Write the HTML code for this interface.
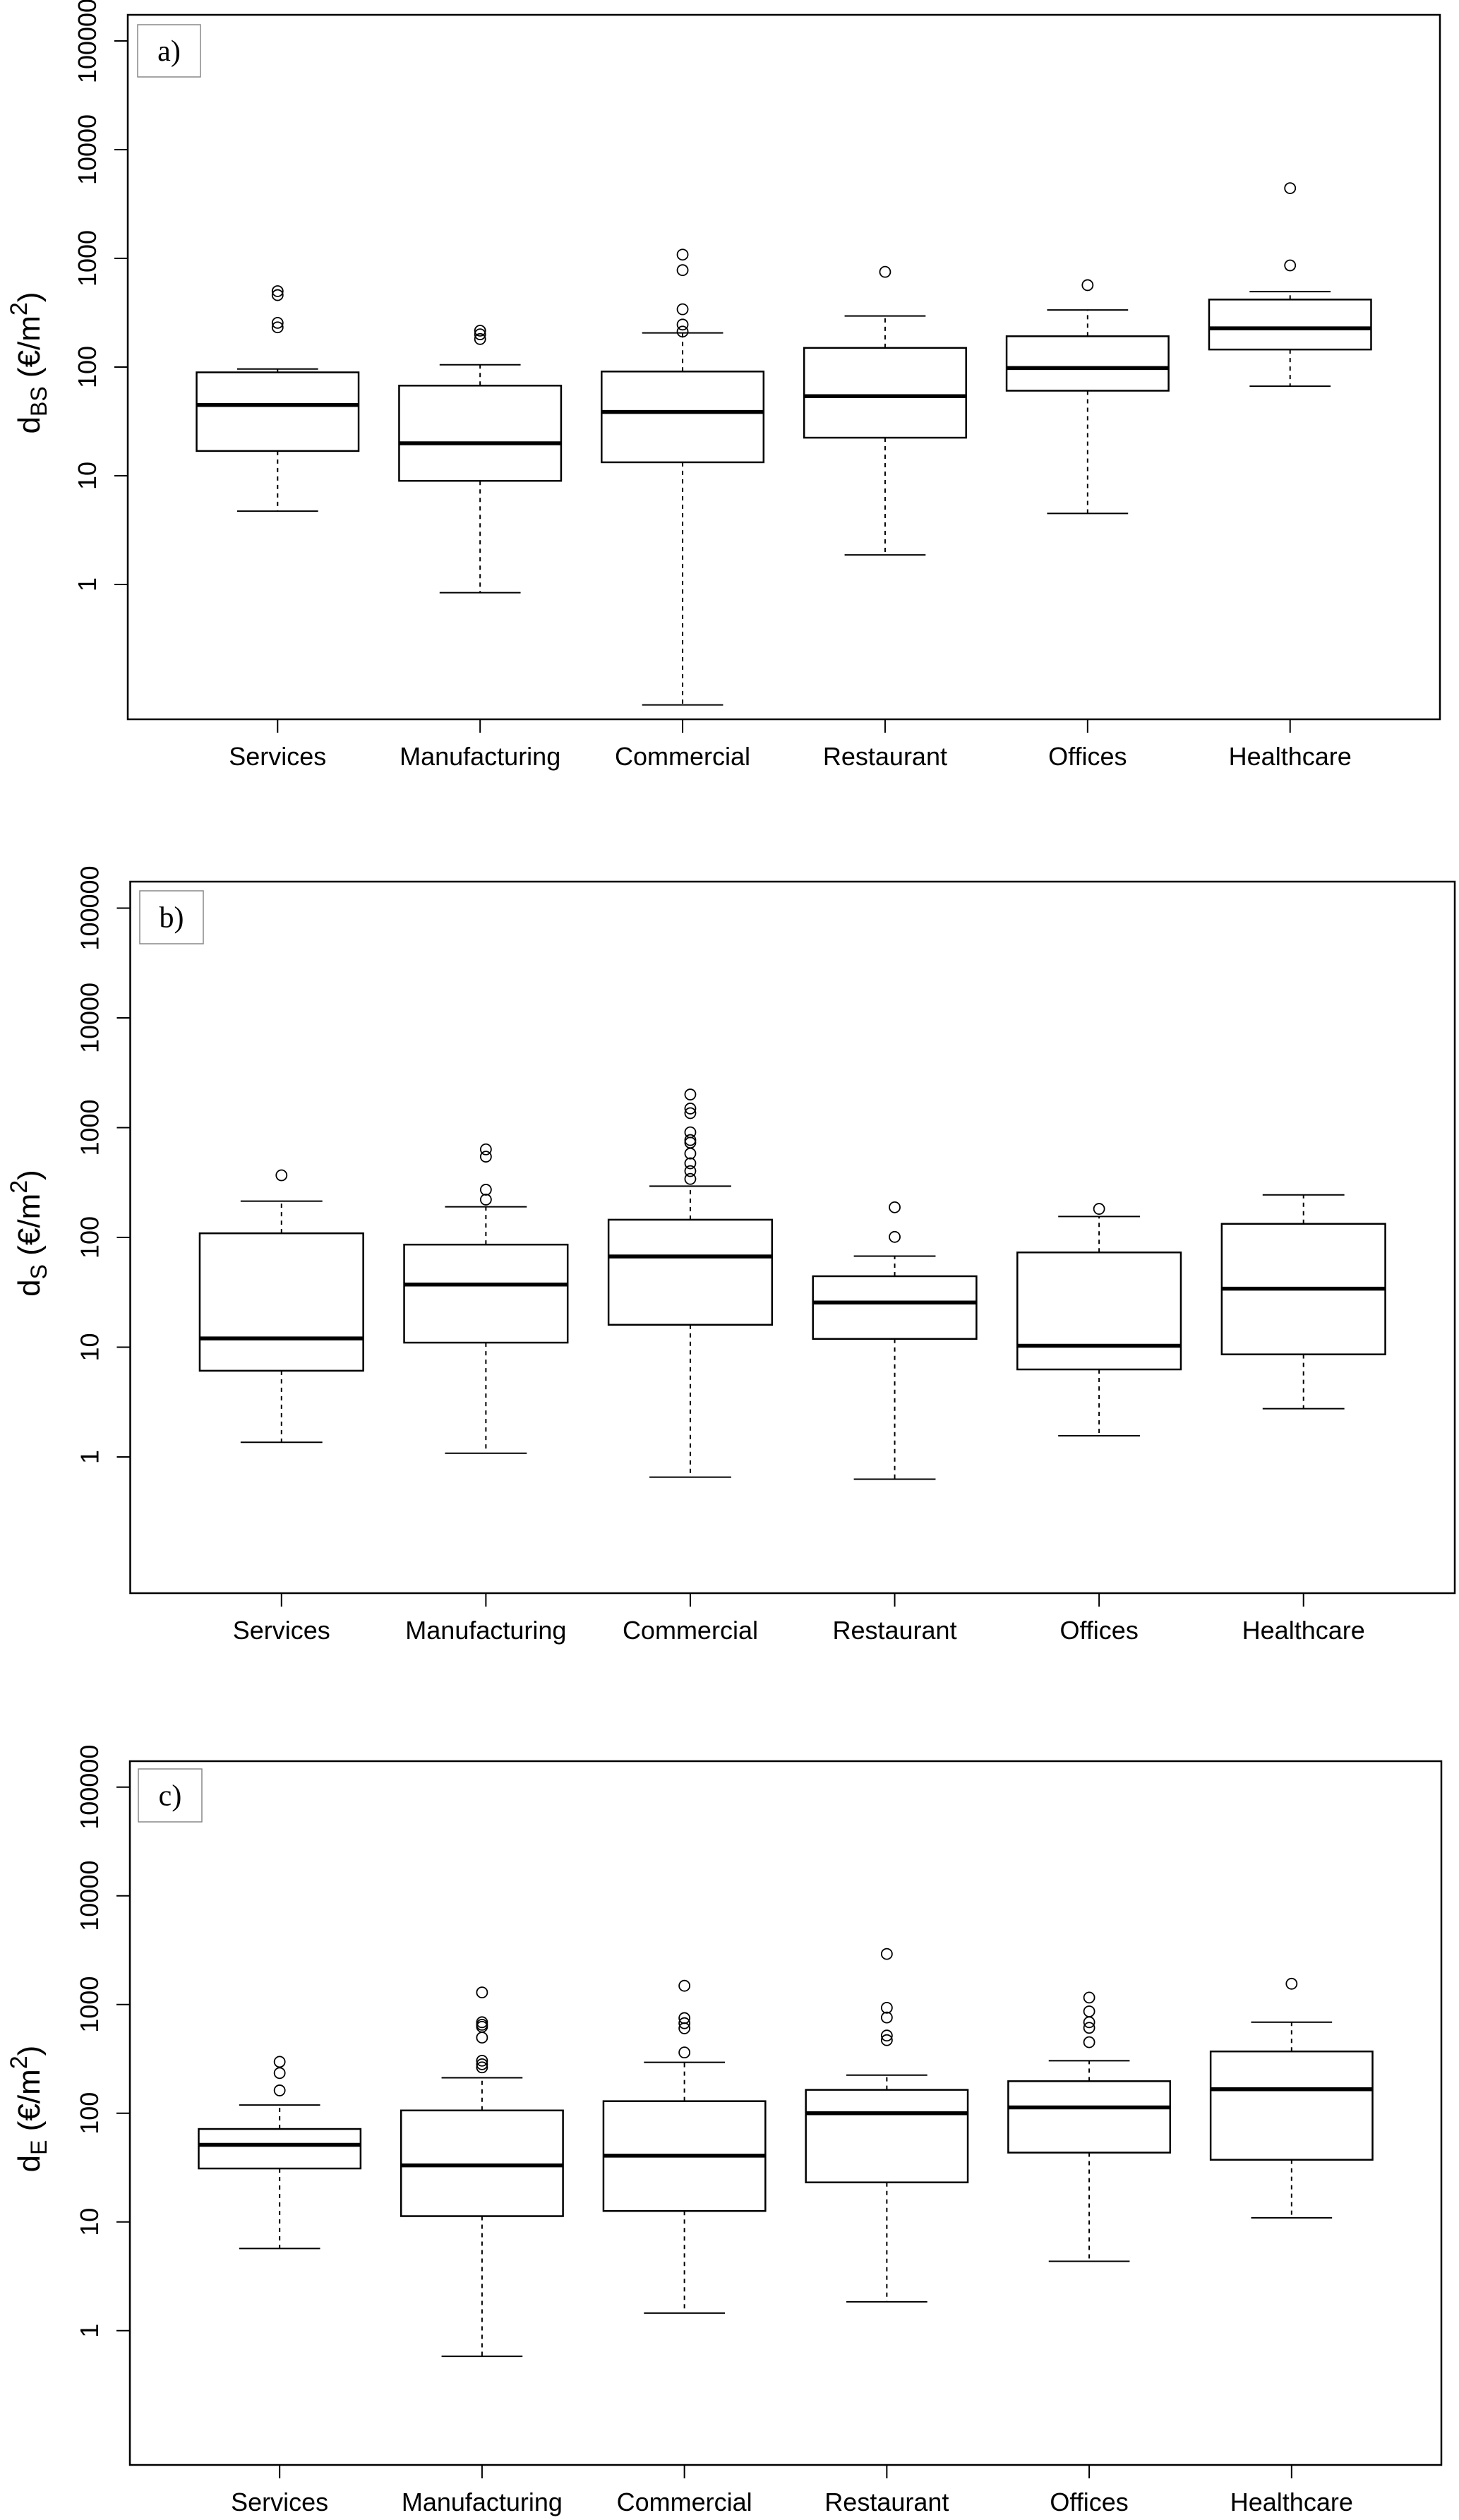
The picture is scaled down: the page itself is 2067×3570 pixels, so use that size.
<!DOCTYPE html>
<html><head><meta charset="utf-8"><style>
html,body{margin:0;padding:0;background:#fff;}
svg{display:block;}
text{font-family:"Liberation Sans",Arial,sans-serif;fill:#000;}
</style></head><body>
<svg id="fig" width="2067" height="3570" viewBox="0 0 2067 3570" xmlns="http://www.w3.org/2000/svg"></svg>
<script>
const categories = ["Services","Manufacturing","Commercial","Restaurant","Offices","Healthcare"];
const yTicks = [1,10,100,1000,10000,100000];
const yTickLabels = ["1","10","100","1000","10000","100000"];

// Panel a) d_BS
const aLower = [4.73,0.84,0.078,1.87,4.5,66.6];
const aQ1 = [16.9,8.98,13.3,22.4,60.6,145];
const aMed = [44.8,19.9,38.6,54,98,227];
const aQ3 = [89.4,67.5,91,150,192,418];
const aUpper = [96,105,206,295,335,494];
const aOutliers = [[499,459,255,232],[216,200,181],[1082,779,340,246,212],[751],[567],[4420,861]];

// Panel b) d_S
const bLower = [1.36,1.08,0.655,0.627,1.56,2.75];
const bQ1 = [6.1,11.0,16.0,11.9,6.27,8.6];
const bMed = [12.0,37.2,67,25.5,10.3,34.1];
const bQ3 = [109,86,145,44.3,73,133];
const bUpper = [214,190,293,67.6,155,244];
const bOutliers = [[368],[634,544,272,221],[2004,1493,1355,907,771,730,581,473,402,341],[188,101],[182],[]];

// Panel c) d_E
const cLower = [5.69,0.58,1.45,1.84,4.34,10.9];
const cQ1 = [31,11.3,12.6,23.1,43.4,37.3];
const cMed = [51.2,33.1,40.7,100,113,166];
const cQ3 = [71.6,106,129,164,197,370];
const cUpper = [119,212,294,224,304,687];
const cOutliers = [[297,234,162],[1291,687,651,624,496,304,282,264],[1486,750,673,604,362],[2917,933,759,518,470],[1158,864,687,610,450],[1552]];

const NS = "http://www.w3.org/2000/svg";
const svg = document.getElementById("fig");
function mk(tag, attrs, parent){
  const e = document.createElementNS(NS, tag);
  for (const k in attrs) e.setAttribute(k, attrs[k]);
  (parent||svg).appendChild(e);
  return e;
}

const panels = [
  {id:"a", label:"a)", sub:"BS", left:181, right:2040, top:21, bottom:1019, yOne:828, dec:154,
   box:[195,35,89,74], lower:aLower, q1:aQ1, med:aMed, q3:aQ3, upper:aUpper, out:aOutliers},
  {id:"b", label:"b)", sub:"S", left:184.5, right:2061, top:1249, bottom:2257, yOne:2064, dec:155.5,
   box:[198,1262,90,75], lower:bLower, q1:bQ1, med:bMed, q3:bQ3, upper:bUpper, out:bOutliers},
  {id:"c", label:"c)", sub:"E", left:184, right:2042, top:2495, bottom:3492, yOne:3301.7, dec:154,
   box:[196,2506,90,75], lower:cLower, q1:cQ1, med:cMed, q3:cQ3, upper:cUpper, out:cOutliers}
];

panels.forEach(p => {
  const g = mk("g", {});
  
  
  const W = p.right - p.left;
  const xs = i => p.left + ((i + 1) - 0.26) / 6.48 * W;
  const sp = W / 6.48;
  const ys = v => p.yOne - Math.log10(v) * p.dec;

  const fr = mk("rect", {x:p.left, y:p.top, width:W, height:p.bottom-p.top, fill:"none", stroke:"#000", "stroke-width":2.5}, g);
  
  

  const lb = mk("rect", {x:p.box[0], y:p.box[1], width:p.box[2], height:p.box[3], fill:"#fff", stroke:"#888", "stroke-width":1.5}, g);
  
  
  const lt = mk("text", {x:p.box[0]+p.box[2]/2, y:p.box[1]+p.box[3]/2+14, "text-anchor":"middle", "font-size":42, style:"font-family:'Liberation Serif',serif"}, g);
  lt.textContent = p.label;
  
  

  yTicks.forEach((t, k) => {
    const y = ys(t);
    const tl = mk("line", {x1:p.left-19, x2:p.left, y1:y, y2:y, stroke:"#000", "stroke-width":2}, g);
    
    
    const tx = mk("text", {x:0, y:0, "text-anchor":"middle", "font-size":36, transform:`translate(${p.left-45},${y}) rotate(-90)`}, g);
    tx.textContent = yTickLabels[k];
    
    
  });

  const cy = (p.top + p.bottom) / 2 - 6;
  const yt = mk("text", {x:0, y:0, "text-anchor":"middle", "font-size":44, transform:`translate(56,${cy}) rotate(-90)`}, g);
  
  
  const t1 = mk("tspan", {}, yt); t1.textContent = "d";
  const t2 = mk("tspan", {dy:10, "font-size":32}, yt); t2.textContent = p.sub;
  const t3 = mk("tspan", {dy:-10}, yt); t3.textContent = " (€/m";
  const t4 = mk("tspan", {dy:-18, "font-size":34}, yt); t4.textContent = "2";
  const t5 = mk("tspan", {dy:18}, yt); t5.textContent = ")";

  categories.forEach((c, i) => {
    const x = xs(i);
    const xt = mk("line", {x1:x, x2:x, y1:p.bottom, y2:p.bottom+19, stroke:"#000", "stroke-width":2}, g);
    
    
    const xl = mk("text", {x:x, y:p.bottom+65, "text-anchor":"middle", "font-size":36}, g);
    xl.textContent = c;
    
    

    const bg = mk("g", {}, g);
    
    
    const bw = 0.8 * sp, cw = 0.4 * sp;
    mk("line", {x1:x, x2:x, y1:ys(p.q3[i]), y2:ys(p.upper[i]), stroke:"#000", "stroke-width":2, "stroke-dasharray":"6 6"}, bg);
    mk("line", {x1:x, x2:x, y1:ys(p.q1[i]), y2:ys(p.lower[i]), stroke:"#000", "stroke-width":2, "stroke-dasharray":"6 6"}, bg);
    mk("line", {x1:x-cw/2, x2:x+cw/2, y1:ys(p.upper[i]), y2:ys(p.upper[i]), stroke:"#000", "stroke-width":2}, bg);
    mk("line", {x1:x-cw/2, x2:x+cw/2, y1:ys(p.lower[i]), y2:ys(p.lower[i]), stroke:"#000", "stroke-width":2}, bg);
    mk("rect", {x:x-bw/2, y:ys(p.q3[i]), width:bw, height:ys(p.q1[i])-ys(p.q3[i]), fill:"#fff", stroke:"#000", "stroke-width":2.5}, bg);
    mk("line", {x1:x-bw/2, x2:x+bw/2, y1:ys(p.med[i]), y2:ys(p.med[i]), stroke:"#000", "stroke-width":5.5}, bg);
    p.out[i].forEach(v => {
      const o = mk("circle", {cx:x, cy:ys(v), r:7.5, fill:"none", stroke:"#000", "stroke-width":1.8}, bg);
      
      
    });
  });
});
</script>
</body></html>
